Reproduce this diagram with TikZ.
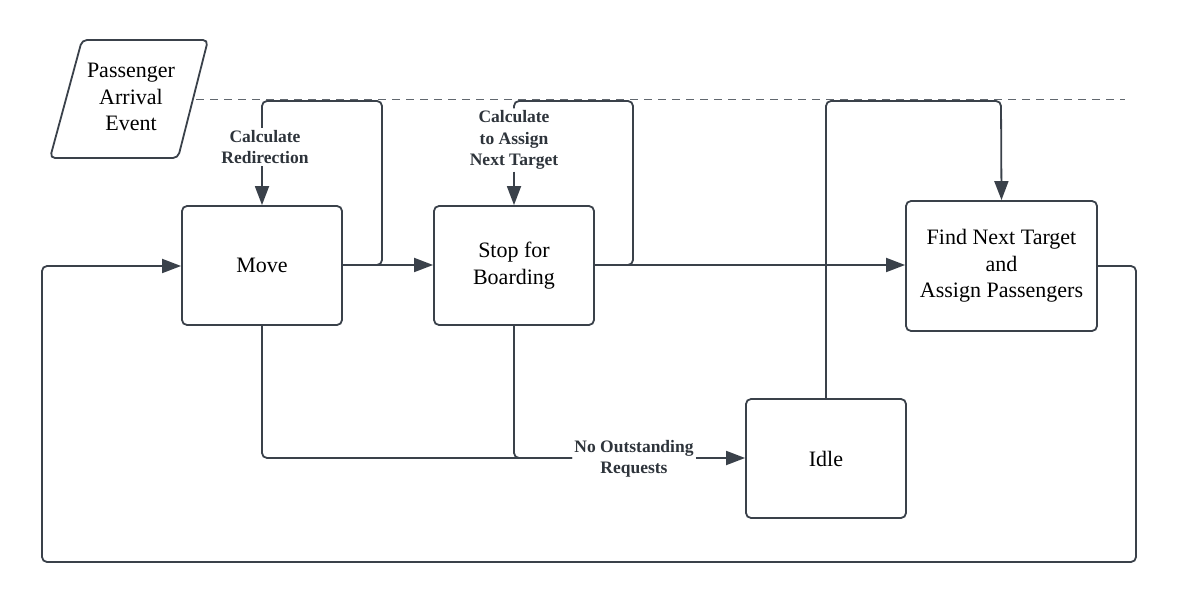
\documentclass[tikz,border=0pt]{standalone}
\usepackage{fontspec}
\setmainfont{Liberation Serif}
\usetikzlibrary{arrows.meta}
\definecolor{ln}{HTML}{3A414A}
\tikzset{
  box/.style={draw=ln, line width=1.8pt, rounded corners=5pt, align=center, font=\fontsize{22}{26.5}\selectfont},
  conn/.style={draw=ln, line width=1.8pt, rounded corners=5pt},
  arr/.style={conn, -{Triangle[length=19pt,width=14pt]}},
  lbl/.style={fill=white, inner sep=2pt, align=center, text=ln!80!black, font=\bfseries\fontsize{17.5}{21.5}\selectfont},
}
\begin{document}
\begin{tikzpicture}[x=1pt,y=-1pt]
\useasboundingbox (0,0) rectangle (1179,604);
% dashed line
\coordinate (d1) at (196,99);
\coordinate (d2) at (1125,99);
\draw[ln!80, line width=0.9pt, dash pattern=on 8pt off 6pt] (d1) -- (d2);
% parallelogram
\draw[draw=ln, line width=1.8pt, rounded corners=5pt, fill=white] (82,40) -- (208,40) -- (178,158) -- (50,158) -- cycle;
\node[align=center, font=\fontsize{22}{26.5}\selectfont] (pae) at (131,97) {Passenger\\Arrival\\Event};
% boxes
\node[box, minimum width=160pt, minimum height=119pt] (move) at (262,265.5) {Move};
\node[box, minimum width=160pt, minimum height=119pt] (stop) at (514,265.5) {Stop for\\Boarding};
\node[box, minimum width=191pt, minimum height=130pt] (find) at (1001.5,266) {Find Next Target\\and\\Assign Passengers};
\node[box, minimum width=160pt, minimum height=119pt] (idle) at (826,458.5) {Idle};
% coordinates
\coordinate (m1) at (382,265);
\coordinate (m2) at (382,101);
\coordinate (m3) at (262,101);
\coordinate (s1) at (633,265);
\coordinate (s2) at (633,101);
\coordinate (s3) at (514,101);
\coordinate (f1) at (1136,266);
\coordinate (f2) at (1136,562);
\coordinate (f3) at (42,562);
\coordinate (f4) at (42,266);
\coordinate (b1) at (262,458);
\coordinate (b2) at (514,458);
\coordinate (i1) at (826,101);
\coordinate (i2) at (1001,101);
% labels
\node[lbl] (lr) at (265,147) {Calculate\\Redirection};
\node[lbl] (ls) at (514,140) {Calculate\\to Assign\\Next Target};
\node[lbl] (ln) at (634,459) {No Outstanding\\Requests};
% connectors
\draw[conn] (move.east |- m1) -- (m1) -- (m2) -- (m3) -- (m3 |- lr.north);
\draw[arr] (m3 |- lr.south) -- (move.north);
\draw[arr] (move.east |- m1) -- (stop.west |- m1);
\draw[conn] (stop.east |- s1) -- (s1) -- (s2) -- (s3) -- (s3 |- ls.north);
\draw[arr] (ls.south) -- (stop.north);
\draw[arr] (stop.east |- s1) -- (find.west |- s1);
\draw[arr] (find.east |- f1) -- (f1) -- (f2) -- (f3) -- (f4) -- (move.west |- f4);
\draw[conn] (move.south) -- (b1) -- (ln.west |- b1);
\draw[conn] (stop.south) -- (b2) -- (ln.west |- b2);
\draw[arr] (ln.east |- b1) -- (idle.west |- b1);
\draw[arr] (idle.north) -- (i1) -- (i2) -- (find.north);
\end{tikzpicture}
\end{document}
